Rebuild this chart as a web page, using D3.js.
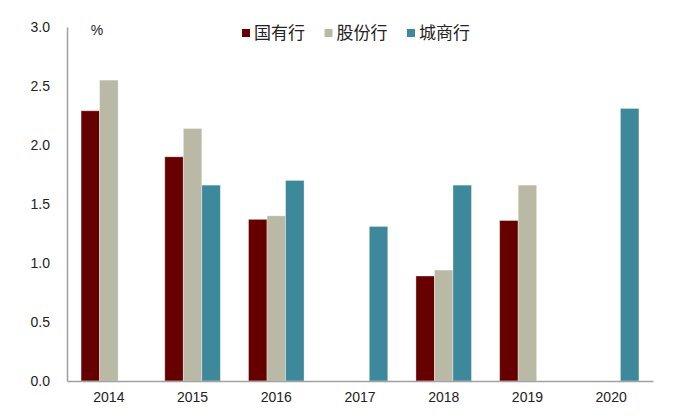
<!DOCTYPE html>
<html>
<head>
<meta charset="utf-8">
<script src="https://cdn.jsdelivr.net/npm/d3@7"></script>
<style>
  body { margin: 0; background: #fff; }
  #chart { width: 700px; height: 420px; }
  text { font-family: "Liberation Sans", Arial, sans-serif; fill: #222; }
  .legend text { font-family: "Noto Sans CJK SC", sans-serif; }
</style>
</head>
<body>
<div id="chart"></div>
<script>
// Chart data
const years = ["2014", "2015", "2016", "2017", "2018", "2019", "2020"];
const seriesNames = ["国有行", "股份行", "城商行"];
const stateBanks = [2.29, 1.90, 1.37, null, 0.89, 1.36, null];
const jointStockBanks = [2.55, 2.14, 1.40, null, 0.94, 1.66, null];
const cityBanks = [null, 1.66, 1.70, 1.31, 1.66, null, 2.31];
const yTicks = [0, 0.5, 1.0, 1.5, 2.0, 2.5, 3.0];
const colors = ["#660000", "#b9b9a6", "#3d889a"];

const seriesValues = [stateBanks, jointStockBanks, cityBanks];

// Dimensions
const margin = { top: 27, right: 47, bottom: 39, left: 67 };
const width = 700 - margin.left - margin.right;
const height = 420 - margin.top - margin.bottom;

const svg = d3
  .select("#chart")
  .append("svg")
  .attr("width", 700)
  .attr("height", 420)
  .append("g")
  .attr("transform", `translate(${margin.left},${margin.top})`);

// Scales
const x0 = d3.scaleBand().domain(years).range([0, width]).paddingInner(0).paddingOuter(0);
const x1 = d3
  .scaleBand()
  .domain(seriesNames)
  .range([0, x0.bandwidth()])
  .paddingOuter(0.76)
  .paddingInner(0);
const y = d3.scaleLinear().domain([0, 3]).range([height, 0]);

// Bars
const rows = [];
years.forEach((yr, i) => {
  seriesNames.forEach((s, j) => {
    const v = seriesValues[j][i];
    if (v != null) rows.push({ year: yr, series: s, value: v, color: colors[j] });
  });
});

svg
  .selectAll(".bar")
  .data(rows)
  .enter()
  .append("rect")
  .attr("class", "bar")
  .attr("x", (d) => x0(d.year) + x1(d.series))
  .attr("y", (d) => y(d.value))
  .attr("width", x1.bandwidth())
  .attr("height", (d) => height - y(d.value))
  .attr("fill", (d) => d.color)
  .attr("stroke", "rgba(255,255,255,0.45)")
  .attr("stroke-width", 0.8);

// Axes
const yAxis = svg
  .append("g")
  .call(d3.axisLeft(y).tickValues(yTicks).tickFormat(d3.format(".1f")).tickSize(0).tickPadding(17));
yAxis.select(".domain").attr("stroke", "#a0a0a0").attr("stroke-width", 1.5);
yAxis.selectAll("text").style("font-size", "14px").attr("fill", "#222");

const xAxis = svg
  .append("g")
  .attr("transform", `translate(0,${height})`)
  .call(d3.axisBottom(x0).tickSize(0).tickPadding(11));
xAxis.select(".domain").attr("stroke", "#a0a0a0").attr("stroke-width", 1.5);
xAxis.selectAll("text").style("font-size", "14px").attr("fill", "#222");

// Unit label
svg
  .append("text")
  .attr("x", 30)
  .attr("y", 8)
  .attr("text-anchor", "middle")
  .style("font-size", "14px")
  .text("%");

// Legend
const legend = svg
  .append("g")
  .attr("class", "legend")
  .attr("transform", `translate(${242 - margin.left},${33 - margin.top})`);

seriesNames.forEach((name, i) => {
  const g = legend.append("g").attr("transform", `translate(${i * 82.5},0)`);
  g.append("rect")
    .attr("x", 0)
    .attr("y", -4)
    .attr("width", 8)
    .attr("height", 8)
    .attr("fill", colors[i]);
  g.append("text")
    .attr("x", 12)
    .attr("y", 0)
    .attr("dy", "0.36em")
    .style("font-size", "17px")
    .text(name);
});
</script>
</body>
</html>
